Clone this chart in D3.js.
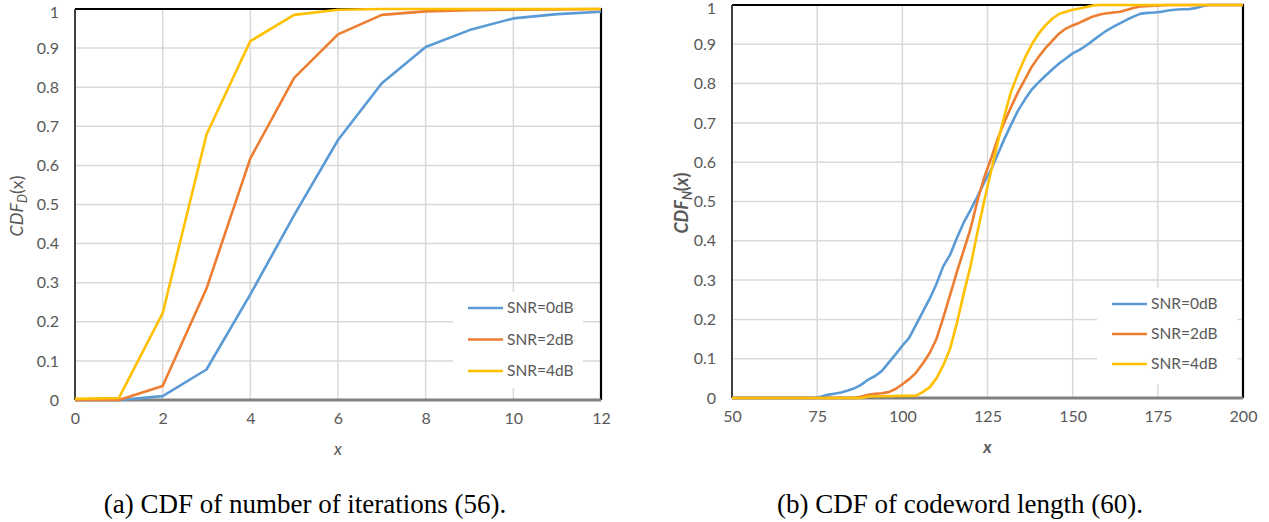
<!doctype html>
<html>
<head>
<meta charset="utf-8">
<script src="https://cdnjs.cloudflare.com/ajax/libs/d3/7.8.5/d3.min.js"></script>
<style>
  body { margin: 0; background: #fff; }
  svg { display: block; }
  .tick text { font-family: Lato, "Open Sans", sans-serif; fill: #595959; }
</style>
</head>
<body>
<svg width="1269" height="522"></svg>
<script>
// ---- data: chart (a), CDF of number of iterations ----
var iterX = [0, 1, 2, 3, 4, 5, 6, 7, 8, 9, 10, 11, 12];
var iterSnr0 = [0, 0, 0.01, 0.078, 0.27, 0.473, 0.665, 0.81, 0.903, 0.946, 0.976, 0.987, 0.993];
var iterSnr2 = [0, 0, 0.036, 0.285, 0.618, 0.824, 0.935, 0.985, 0.994, 0.997, 0.998, 0.999, 1];
var iterSnr4 = [0.003, 0.005, 0.222, 0.679, 0.918, 0.985, 0.998, 1, 1, 1, 1, 1, 1];
var iterXTicks = [0, 2, 4, 6, 8, 10, 12];

// ---- data: chart (b), CDF of codeword length, [x, cdf] ----
var lenSnr0 = [[50,0],[74,0],[76,0.003],[78,0.008],[80,0.011],[82,0.014],[84,0.019],[86,0.025],[88,0.034],[90,0.047],[92,0.056],[94,0.069],[96,0.09],[98,0.111],[100,0.133],[102,0.153],[104,0.186],[106,0.219],[108,0.252],[110,0.29],[112,0.335],[114,0.364],[116,0.407],[118,0.446],[120,0.478],[122,0.512],[124,0.548],[126,0.58],[128,0.62],[130,0.66],[132,0.697],[134,0.732],[136,0.76],[138,0.785],[140,0.803],[142,0.82],[144,0.836],[146,0.851],[148,0.864],[150,0.877],[152,0.886],[154,0.897],[156,0.91],[158,0.923],[160,0.935],[162,0.945],[164,0.954],[166,0.963],[168,0.971],[170,0.978],[172,0.98],[174,0.981],[176,0.983],[178,0.986],[180,0.988],[182,0.989],[184,0.989],[186,0.992],[188,0.997],[190,1],[200,1]];
var lenSnr2 = [[50,0],[86,0],[88,0.004],[90,0.008],[92,0.011],[94,0.012],[96,0.015],[98,0.023],[100,0.035],[102,0.048],[104,0.064],[106,0.088],[108,0.114],[110,0.15],[112,0.204],[114,0.262],[116,0.32],[118,0.375],[120,0.43],[122,0.5],[124,0.56],[126,0.608],[128,0.66],[130,0.703],[132,0.742],[134,0.779],[136,0.811],[138,0.843],[140,0.868],[142,0.89],[144,0.909],[146,0.927],[148,0.94],[150,0.948],[152,0.955],[154,0.963],[156,0.971],[158,0.976],[160,0.979],[162,0.981],[164,0.983],[166,0.988],[168,0.993],[170,0.996],[174,0.998],[178,1],[200,1]];
var lenSnr4 = [[50,0],[88,0],[90,0.004],[104,0.006],[106,0.015],[108,0.027],[110,0.05],[112,0.083],[114,0.125],[116,0.19],[118,0.265],[120,0.335],[122,0.42],[124,0.5],[126,0.575],[128,0.65],[130,0.72],[132,0.782],[134,0.826],[136,0.866],[138,0.9],[140,0.927],[142,0.948],[144,0.965],[146,0.977],[148,0.983],[150,0.988],[152,0.991],[154,0.995],[156,0.999],[158,1],[200,1]];
var lenXTicks = [50, 75, 100, 125, 150, 175, 200];

var yTicks = [0, 0.1, 0.2, 0.3, 0.4, 0.5, 0.6, 0.7, 0.8, 0.9, 1];
var seriesNames = ["SNR=0dB", "SNR=2dB", "SNR=4dB"];
var colors = ["#5B9BD5", "#ED7D31", "#FFC000"];
var captions = ["(a) CDF of number of iterations (56).", "(b) CDF of codeword length (60)."];

var svg = d3.select("svg");

function drawChart(opt) {
    var x = d3.scaleLinear().domain(opt.xDomain).range([opt.left, opt.right]);
    var y = d3.scaleLinear().domain([0, 1]).range([opt.bottom, opt.top]);
    var g = svg.append("g");

    // gridlines
    g.append("g").selectAll("line").data(yTicks.slice(1)).enter().append("line")
        .attr("x1", opt.left).attr("x2", opt.right)
        .attr("y1", function (d) { return y(d); }).attr("y2", function (d) { return y(d); })
        .attr("stroke", "#d9d9d9").attr("stroke-width", 1.5);
    g.append("g").selectAll("line").data(opt.xTicks.slice(1)).enter().append("line")
        .attr("y1", opt.top).attr("y2", opt.bottom)
        .attr("x1", function (d) { return x(d); }).attr("x2", function (d) { return x(d); })
        .attr("stroke", "#d9d9d9").attr("stroke-width", 1.5);

    // frame
    g.append("line").attr("x1", opt.left).attr("x2", opt.right + 1).attr("y1", opt.top).attr("y2", opt.top)
        .attr("stroke", "#000").attr("stroke-width", 2.2);
    g.append("line").attr("x1", opt.right).attr("x2", opt.right).attr("y1", opt.top).attr("y2", opt.bottom)
        .attr("stroke", "#000").attr("stroke-width", 2.2);
    g.append("line").attr("x1", opt.left).attr("x2", opt.left).attr("y1", opt.top).attr("y2", opt.bottom)
        .attr("stroke", "#404040").attr("stroke-width", 2);
    g.append("line").attr("x1", opt.left).attr("x2", opt.right).attr("y1", opt.bottom).attr("y2", opt.bottom)
        .attr("stroke", "#808080").attr("stroke-width", 3);

    // axes (labels only)
    var xa = g.append("g").attr("transform", "translate(0," + (opt.bottom + 13) + ")")
        .call(d3.axisBottom(x).tickValues(opt.xTicks).tickSize(0).tickPadding(0));
    var ya = g.append("g").attr("transform", "translate(" + (opt.left - 16) + ",0)")
        .call(d3.axisLeft(y).tickValues(yTicks).tickSize(0).tickPadding(0)
            .tickFormat(function (d) { return d === 0 ? "0" : d === 1 ? "1" : d.toFixed(1); }));
    [xa, ya].forEach(function (a) {
        a.select(".domain").remove();
        a.selectAll("text").style("font-size", "16px").style("font-family", "Lato, sans-serif").attr("fill", "#595959");
    });
    xa.selectAll("text").attr("dy", "0.71em");
    ya.selectAll("text").filter(function (d) { return d === 1; }).attr("dy", "0.55em");

    // series
    var line = d3.line().x(function (d) { return x(d[0]); }).y(function (d) { return y(d[1]); });
    opt.series.forEach(function (s, i) {
        g.append("path").datum(s).attr("d", line)
            .attr("fill", "none").attr("stroke", colors[i]).attr("stroke-width", 2.6)
            .attr("stroke-linejoin", "round");
    });

    // legend
    var lg = g.append("g").attr("transform", "translate(" + opt.legend[0] + "," + opt.legend[1] + ")");
    lg.append("rect").attr("x", -15).attr("y", -16).attr("width", opt.legendW).attr("height", 96).attr("fill", "#fff");
    seriesNames.forEach(function (n, i) {
        var row = lg.append("g").attr("transform", "translate(0," + i * opt.legendStep + ")");
        row.append("line").attr("x1", 0).attr("x2", 35).attr("y1", 0).attr("y2", 0)
            .attr("stroke", colors[i]).attr("stroke-width", 2.6);
        row.append("text").attr("x", 39).attr("y", 0).attr("dy", "0.35em")
            .style("font-family", "Lato, sans-serif").style("font-size", "15.5px").attr("fill", "#595959").text(n);
    });

    // x title
    g.append("text").attr("x", (opt.left + opt.right) / 2).attr("y", opt.bottom + 55)
        .attr("text-anchor", "middle").style("font-family", "Lato, sans-serif").style("font-size", "17px")
        .style("font-style", "italic").style("font-weight", opt.bold ? "bold" : "normal")
        .attr("fill", "#595959").text("x");

    // y title
    var yt = g.append("text").attr("transform", "translate(" + opt.yTitleX + "," + opt.yTitleY + ") rotate(-90)")
        .attr("text-anchor", "middle").style("font-family", "Lato, sans-serif").style("font-size", "18px")
        .style("font-weight", opt.bold ? "bold" : "normal").attr("fill", "#595959");
    yt.append("tspan").style("font-style", "italic").text("CDF");
    yt.append("tspan").style("font-style", "italic").style("font-size", "12.5px").attr("dy", 3.5).text(opt.sub);
    yt.append("tspan").attr("dy", -3.5).text("(");
    yt.append("tspan").style("font-style", opt.bold ? "italic" : "normal").text("x");
    yt.append("tspan").text(")");

    // caption
    svg.append("text").attr("x", opt.captionX).attr("y", 513).attr("text-anchor", "middle")
        .style("font-family", "'Liberation Serif', 'Times New Roman', serif").style("font-size", "27px")
        .attr("fill", "#000").text(opt.caption);
}

drawChart({
    xDomain: [0, 12], left: 75, right: 601, top: 9, bottom: 400,
    xTicks: iterXTicks,
    series: [iterSnr0, iterSnr2, iterSnr4].map(function (s) { return s.map(function (v, i) { return [iterX[i], v]; }); }),
    legend: [468, 308], legendStep: 31.5, legendW: 130,
    yTitleX: 23, yTitleY: 206, sub: "D", bold: false,
    caption: captions[0], captionX: 305
});

drawChart({
    xDomain: [50, 200], left: 732, right: 1243, top: 5, bottom: 398,
    xTicks: lenXTicks,
    series: [lenSnr0, lenSnr2, lenSnr4],
    legend: [1112, 304], legendStep: 30, legendW: 140,
    yTitleX: 688, yTitleY: 203, sub: "N", bold: true,
    caption: captions[1], captionX: 960
});
</script>
</body>
</html>
